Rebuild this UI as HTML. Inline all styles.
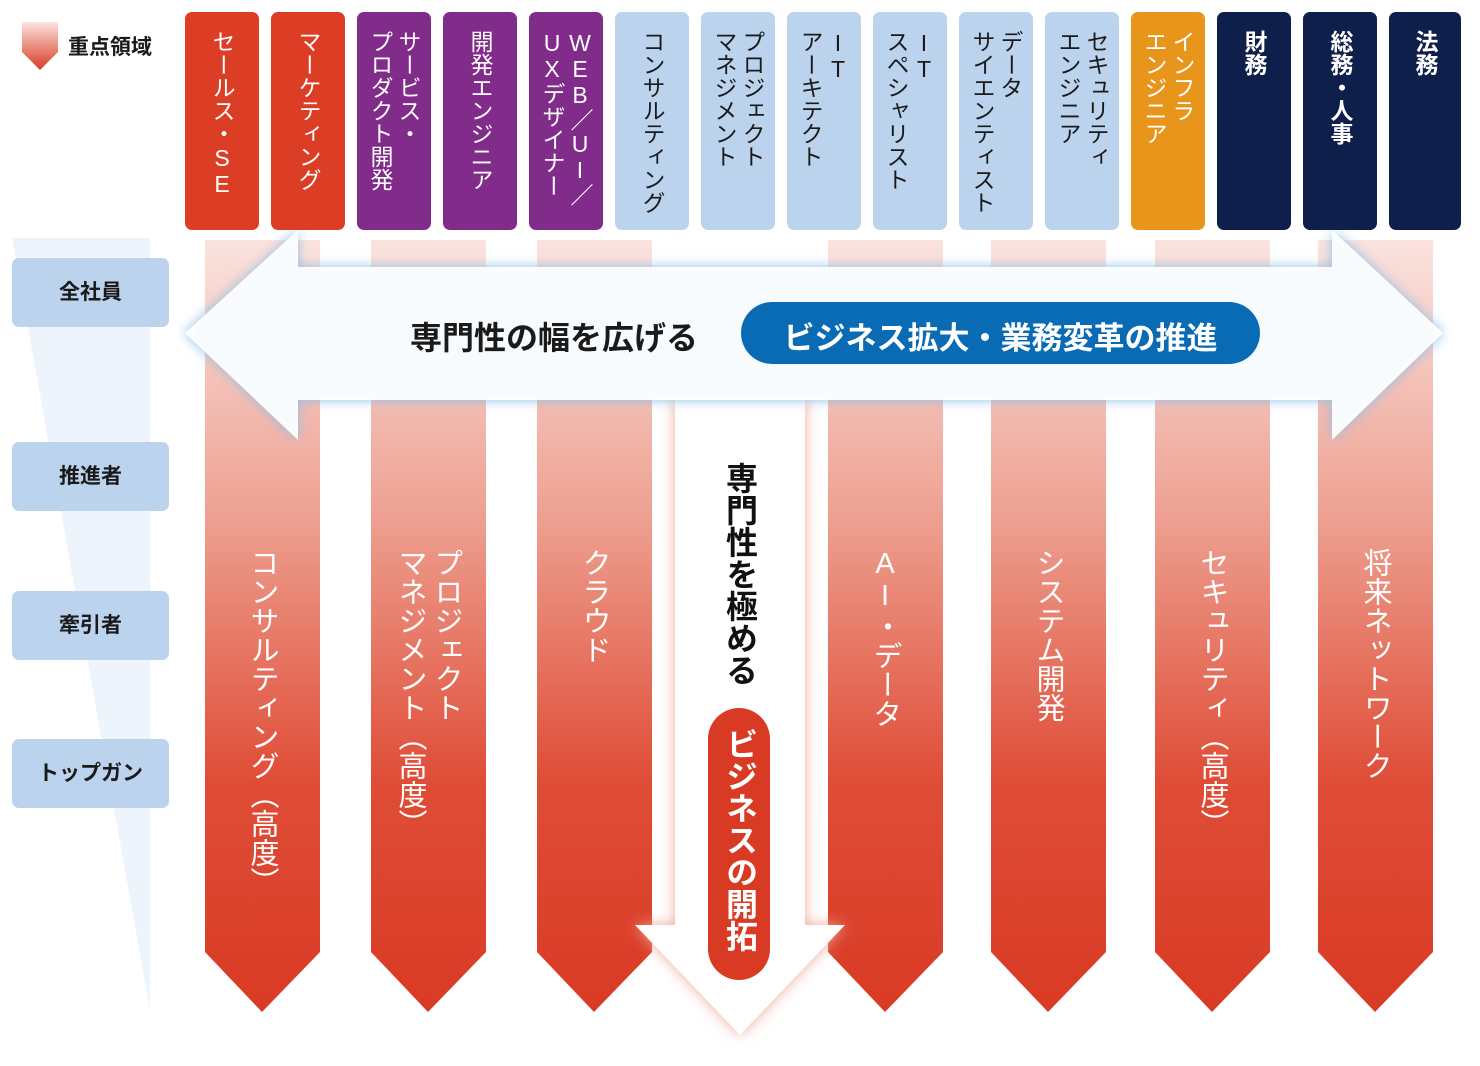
<!DOCTYPE html>
<html><head><meta charset="utf-8">
<style>
body{margin:0;background:#fff;}
#c{position:relative;width:1480px;height:1066px;overflow:hidden;font-family:"Liberation Sans","Noto Sans CJK JP",sans-serif;}
.v{position:absolute;writing-mode:vertical-rl;text-orientation:upright;white-space:nowrap;}
.box{position:absolute;top:12px;width:74px;height:218px;border-radius:7px;}
.bt{position:absolute;writing-mode:vertical-rl;text-orientation:upright;white-space:nowrap;font-size:23px;line-height:28px;top:18px;left:50%;transform:translateX(-50%);color:#fff;letter-spacing:0px;}
.lb{position:absolute;left:12px;width:157px;height:69px;background:#bcd3ee;border-radius:7px;font-weight:bold;font-size:21px;color:#1a1a1a;text-align:center;line-height:69px;}
.dt{position:absolute;writing-mode:vertical-rl;text-orientation:upright;white-space:nowrap;color:#fff;font-size:29px;line-height:36px;top:548px;transform:translateX(-50%);}
</style></head><body><div id="c">
<svg width="1480" height="1066" style="position:absolute;left:0;top:0">
<defs>
<linearGradient id="g" x1="0" y1="0" x2="0" y2="1">
<stop offset="0" stop-color="#fbe3df"/><stop offset="0.35" stop-color="#eea293"/><stop offset="0.7" stop-color="#df4d37"/><stop offset="1" stop-color="#d93a24"/></linearGradient>
<linearGradient id="lg" x1="0" y1="0" x2="0" y2="1"><stop offset="0" stop-color="#fbe3df"/><stop offset="1" stop-color="#d93a24"/></linearGradient>
<filter id="bl" x="-10%" y="-30%" width="120%" height="160%"><feGaussianBlur stdDeviation="6"/></filter>
<filter id="bl2" x="-30%" y="-10%" width="160%" height="120%"><feGaussianBlur stdDeviation="7"/></filter>
</defs>
<path d="M12 238 H150 V1010 Z" fill="#eef4fb"/>
<g fill="url(#g)">
<polygon points="205,240 320,240 320,952 262,1012 205,952"/>
<polygon points="371,240 486,240 486,952 428,1012 371,952"/>
<polygon points="537,240 652,240 652,952 594,1012 537,952"/>
<polygon points="828,240 943,240 943,952 885,1012 828,952"/>
<polygon points="991,240 1106,240 1106,952 1048,1012 991,952"/>
<polygon points="1155,240 1270,240 1270,952 1212,1012 1155,952"/>
<polygon points="1318,240 1433,240 1433,952 1375,1012 1318,952"/>
</g>
<polygon points="675,395 805,395 805,925 845,925 740,1035 635,925 675,925" fill="#f1a89a" filter="url(#bl2)"/>
<polygon points="675,395 805,395 805,925 845,925 740,1035 635,925 675,925" fill="#fff"/>
<polygon points="185,333 298,230 298,267 1332,267 1332,230 1443,333 1332,440 1332,400 298,400 298,440" fill="#8fc0e6" filter="url(#bl)"/>
<polygon points="185,333 298,230 298,267 1332,267 1332,230 1443,333 1332,440 1332,400 298,400 298,440" fill="#fff" fill-opacity="0.93"/>
<rect x="741" y="302" width="519" height="62" rx="31" fill="#0a6bb5"/>
<rect x="708" y="708" width="62" height="272" rx="31" fill="#d93a24"/>
<polygon points="22,22 58,22 58,52 40,70 22,52" fill="url(#lg)"/>
</svg>
<div style="position:absolute;left:68px;top:31px;font-size:21px;font-weight:bold;color:#1a1a1a;">重点領域</div>

<div class="box" style="left:185px;background:#dc3d25"><div class="bt">セールス・SE</div></div>
<div class="box" style="left:271px;background:#dc3d25"><div class="bt">マーケティング</div></div>
<div class="box" style="left:357px;background:#812b8a"><div class="bt">サービス・<br>プロダクト開発</div></div>
<div class="box" style="left:443px;background:#812b8a"><div class="bt">開発エンジニア</div></div>
<div class="box" style="left:529px;background:#812b8a"><div class="bt">WEB／UI／<br>UXデザイナー</div></div>
<div class="box" style="left:615px;background:#bcd3ee"><div class="bt" style="color:#1a1a1a">コンサルティング</div></div>
<div class="box" style="left:701px;background:#bcd3ee"><div class="bt" style="color:#1a1a1a">プロジェクト<br>マネジメント</div></div>
<div class="box" style="left:787px;background:#bcd3ee"><div class="bt" style="color:#1a1a1a">IT<br>アーキテクト</div></div>
<div class="box" style="left:873px;background:#bcd3ee"><div class="bt" style="color:#1a1a1a">IT<br>スペシャリスト</div></div>
<div class="box" style="left:959px;background:#bcd3ee"><div class="bt" style="color:#1a1a1a">データ<br>サイエンティスト</div></div>
<div class="box" style="left:1045px;background:#bcd3ee"><div class="bt" style="color:#1a1a1a">セキュリティ<br>エンジニア</div></div>
<div class="box" style="left:1131px;background:#e8951c"><div class="bt">インフラ<br>エンジニア</div></div>
<div class="box" style="left:1217px;background:#0d1f4a"><div class="bt" style="font-weight:bold">財務</div></div>
<div class="box" style="left:1303px;background:#0d1f4a"><div class="bt" style="font-weight:bold">総務・人事</div></div>
<div class="box" style="left:1389px;width:72px;background:#0d1f4a"><div class="bt" style="font-weight:bold">法務</div></div>

<div class="lb" style="top:258px">全社員</div>
<div class="lb" style="top:442px">推進者</div>
<div class="lb" style="top:591px">牽引者</div>
<div class="lb" style="top:739px">トップガン</div>

<div style="position:absolute;left:410px;top:313px;font-size:32px;font-weight:bold;color:#1a1a1a;">専門性の幅を広げる</div>
<div style="position:absolute;left:741px;width:519px;top:313px;text-align:center;font-size:31px;font-weight:bold;color:#fff;">ビジネス拡大・業務変革の推進</div>

<div class="dt" style="left:262px">コンサルティング（高度）</div>
<div class="dt" style="left:428px;width:72px">プロジェクト<br>マネジメント（高度）</div>
<div class="dt" style="left:594px">クラウド</div>
<div class="dt" style="left:885px">AI・データ</div>
<div class="dt" style="left:1048px">システム開発</div>
<div class="dt" style="left:1212px">セキュリティ（高度）</div>
<div class="dt" style="left:1375px">将来ネットワーク</div>

<div class="v" style="left:721px;top:462px;font-size:32px;line-height:38px;font-weight:bold;color:#111;">専門性を極める</div>
<div class="v" style="left:721px;top:728px;font-size:32px;line-height:38px;font-weight:bold;color:#fff;">ビジネスの開拓</div>
</div></body></html>
